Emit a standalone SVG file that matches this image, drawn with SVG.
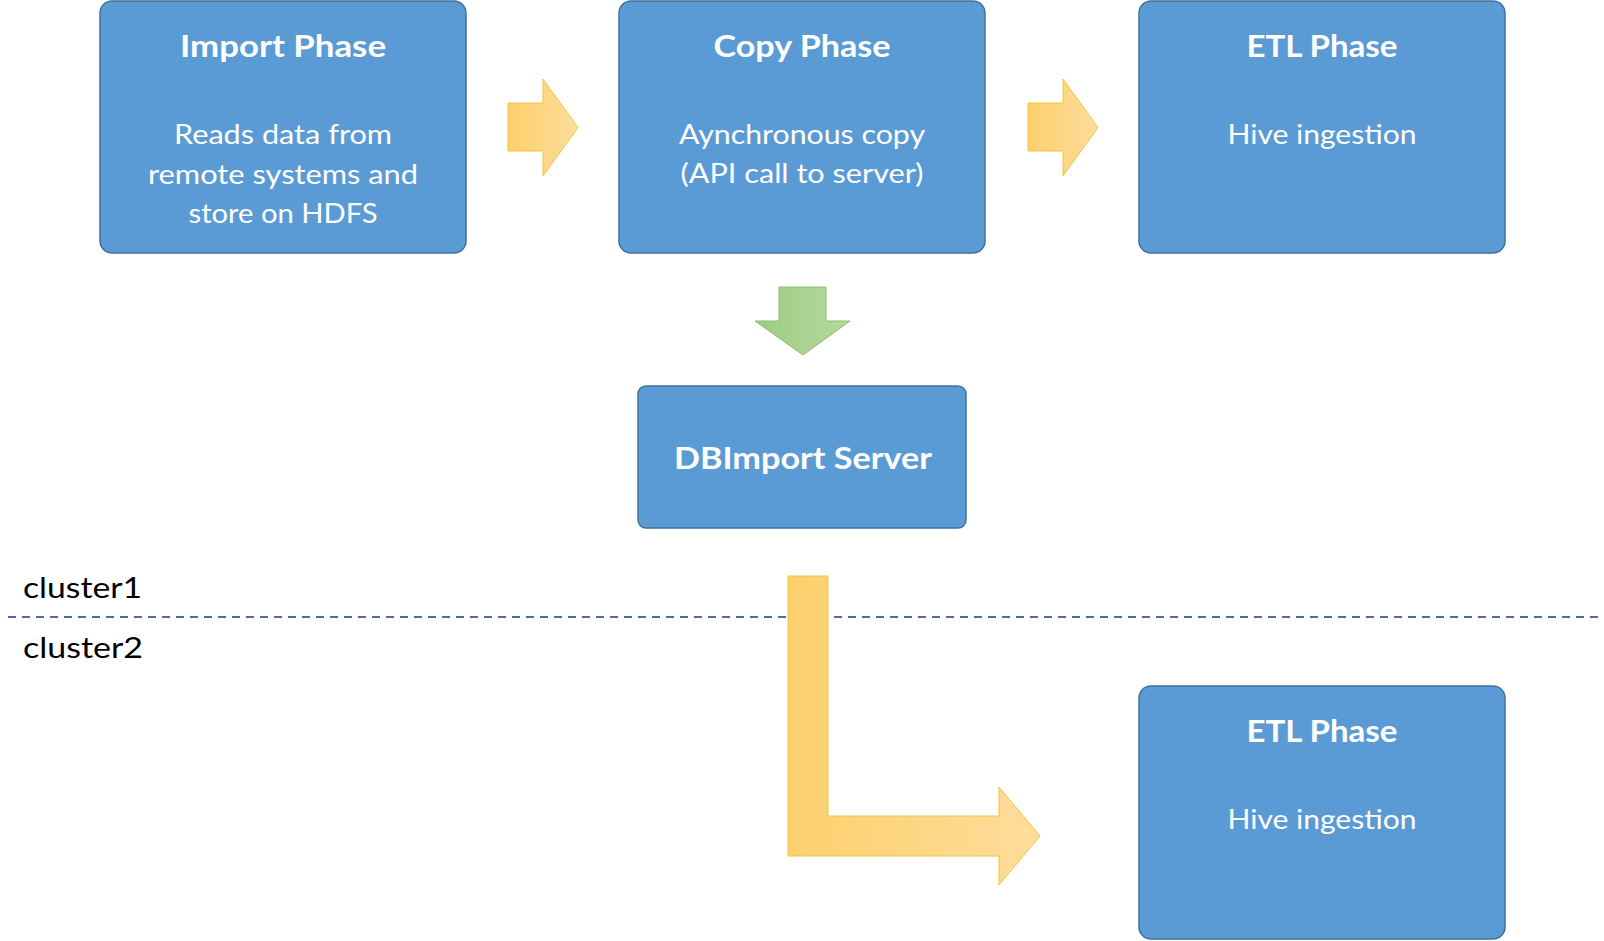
<svg xmlns="http://www.w3.org/2000/svg" width="1604" height="941" viewBox="0 0 1604 941">
  <defs>
    <linearGradient id="gold" x1="0" y1="0" x2="1" y2="0">
      <stop offset="0" stop-color="#fcd06c"/>
      <stop offset="1" stop-color="#fedd9c"/>
    </linearGradient>
    <linearGradient id="green" x1="0" y1="0" x2="1" y2="0">
      <stop offset="0" stop-color="#9ecb82"/>
      <stop offset="1" stop-color="#b6d99f"/>
    </linearGradient>
    <style>
      .box { fill: #5b9bd5; stroke: #41719c; stroke-width: 1.5; }
      .title { font-family: Lato, "Liberation Sans", sans-serif; font-weight: bold; font-size: 31px; fill: #ffffff; text-anchor: middle; }
      .body { font-family: Lato, "Liberation Sans", sans-serif; font-size: 26px; fill: #ffffff; text-anchor: middle; }
      .cluster { font-family: Lato, "Liberation Sans", sans-serif; font-size: 28px; fill: #000000; }
      .garrow { fill: url(#gold); stroke: #f2c443; stroke-width: 1; }
      .greenarrow { fill: url(#green); stroke: #8dbd6c; stroke-width: 1; }
      .divider { stroke: #4e6a9f; stroke-width: 2; stroke-dasharray: 8 6; fill: none; }
    </style>
  </defs>

  <g id="divider">
    <line class="divider" x1="8" y1="617" x2="1604" y2="617"/>
    <text class="cluster" x="23" y="598" textLength="119" lengthAdjust="spacingAndGlyphs">cluster1</text>
    <text class="cluster" x="23" y="658" textLength="120" lengthAdjust="spacingAndGlyphs">cluster2</text>
  </g>

  <g id="import-phase">
    <rect class="box" x="100" y="1" width="366" height="252" rx="12"/>
    <text class="title" x="283" y="57" textLength="206" lengthAdjust="spacingAndGlyphs">Import Phase</text>
    <text class="body" x="283" y="144" textLength="218" lengthAdjust="spacingAndGlyphs">Reads data from</text>
    <text class="body" x="283" y="184" textLength="270" lengthAdjust="spacingAndGlyphs">remote systems and</text>
    <text class="body" x="283" y="223" textLength="189" lengthAdjust="spacingAndGlyphs">store on HDFS</text>
  </g>

  <g id="copy-phase">
    <rect class="box" x="619" y="1" width="366" height="252" rx="12"/>
    <text class="title" x="802" y="57" textLength="177" lengthAdjust="spacingAndGlyphs">Copy Phase</text>
    <text class="body" x="802" y="144" textLength="246" lengthAdjust="spacingAndGlyphs">Aynchronous copy</text>
    <text class="body" x="802" y="183" textLength="243" lengthAdjust="spacingAndGlyphs">(API call to server)</text>
  </g>

  <g id="etl-phase-1">
    <rect class="box" x="1139" y="1" width="366" height="252" rx="12"/>
    <text class="title" x="1322" y="57" textLength="151" lengthAdjust="spacingAndGlyphs">ETL Phase</text>
    <text class="body" x="1322" y="144" textLength="189" lengthAdjust="spacingAndGlyphs">Hive ingestion</text>
  </g>

  <g id="dbimport-server">
    <rect class="box" x="638" y="386" width="328" height="142" rx="8"/>
    <text class="title" x="803" y="469" textLength="258" lengthAdjust="spacingAndGlyphs">DBImport Server</text>
  </g>

  <g id="etl-phase-2">
    <rect class="box" x="1139" y="686" width="366" height="253" rx="12"/>
    <text class="title" x="1322" y="742" textLength="151" lengthAdjust="spacingAndGlyphs">ETL Phase</text>
    <text class="body" x="1322" y="829" textLength="189" lengthAdjust="spacingAndGlyphs">Hive ingestion</text>
  </g>

  <g id="connectors">
    <path class="garrow" d="M508,103 H543 V79 L578,127.5 L543,176 V151 H508 Z"/>
    <path class="garrow" d="M1028,103 H1063 V79 L1098,127.5 L1063,176 V151 H1028 Z"/>
    <path class="greenarrow" d="M779,287 H826 V321 H850 L803,355 L755,321 H779 Z"/>
    <path class="garrow" d="M788,576 H828 V816 H999 V787 L1040,836 L999,885 V856 H788 Z"/>
  </g>
</svg>
